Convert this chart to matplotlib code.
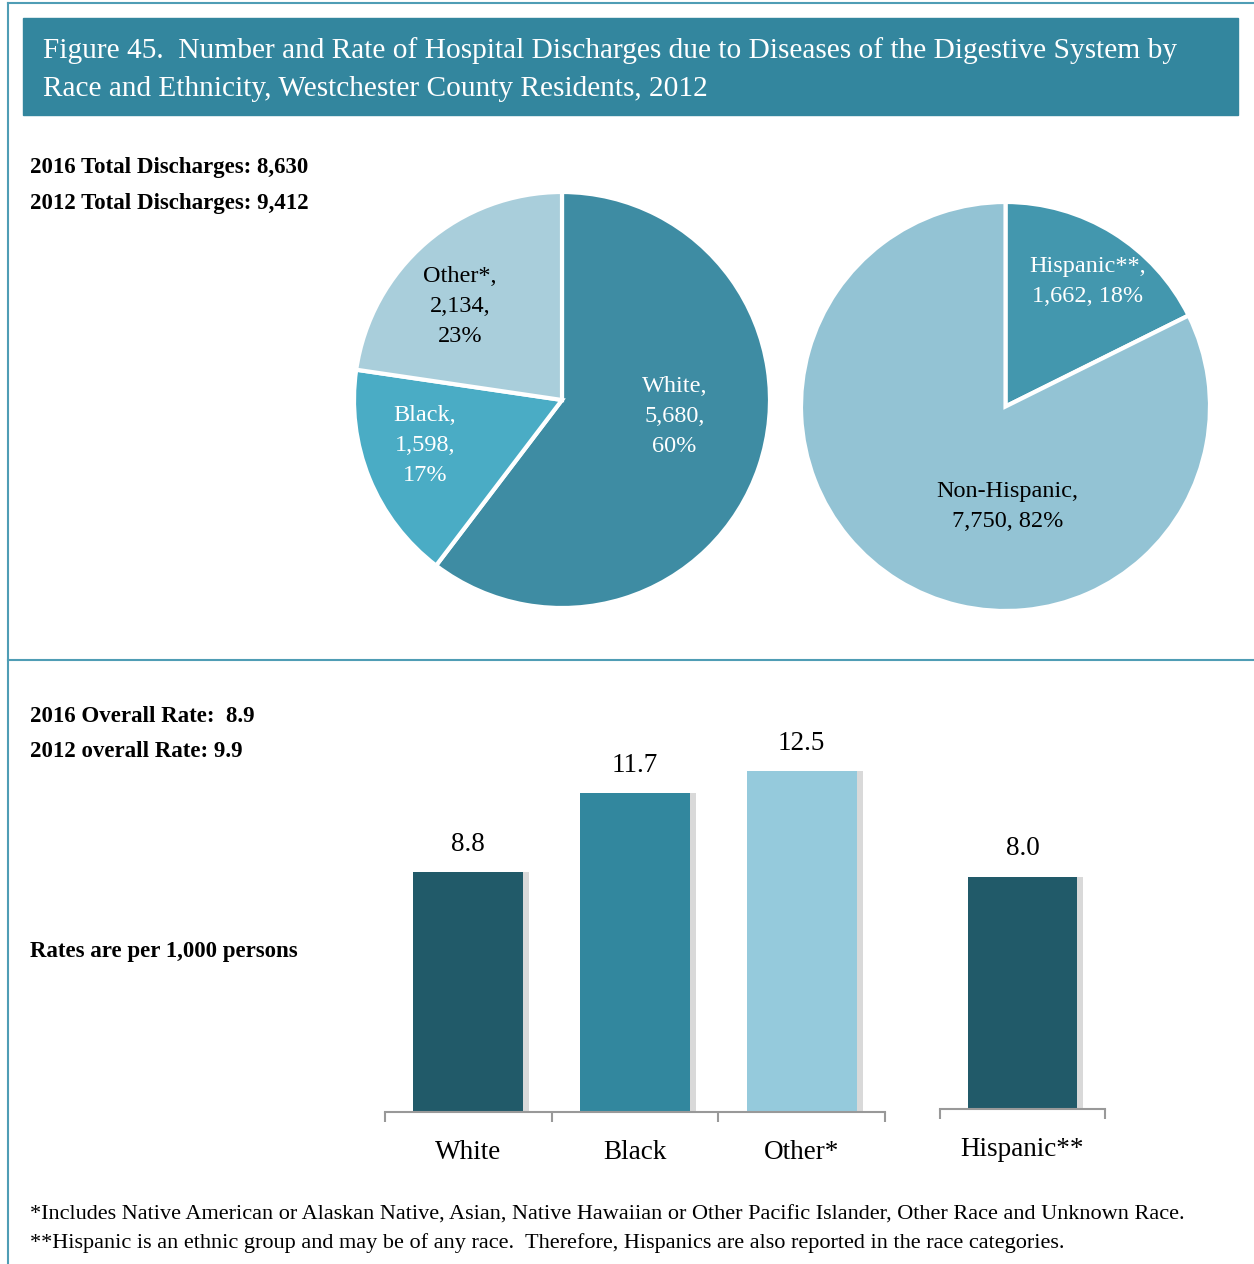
import matplotlib
matplotlib.use('Agg')
import matplotlib.pyplot as plt
from matplotlib.patches import Rectangle
from matplotlib.lines import Line2D

# data
race_names = ['White', 'Black', 'Other*']
race_counts = [5680, 1598, 2134]
race_pcts = [60, 17, 23]
eth_names = ['Hispanic**', 'Non-Hispanic']
eth_counts = [1662, 7750]
eth_pcts = [18, 82]
bar_labels = ['White', 'Black', 'Other*']
bar_rates = [8.8, 11.7, 12.5]
hisp_label = ['Hispanic**']
hisp_rate = [8.0]

W, H = 1254, 1264
fig = plt.figure(figsize=(W / 100, H / 100), dpi=100)
plt.rcParams['font.family'] = 'Liberation Serif'

teal = '#33869E'
border = '#4F9DB5'


def px(x0, y0, x1, y1):
    # pixel box (top-left origin) -> figure fraction rect
    return [x0 / W, 1 - y1 / H, (x1 - x0) / W, (y1 - y0) / H]


def ftext(x, y, s, **kw):
    fig.text(x / W, 1 - y / H, s, **kw)


# frame lines
fig.add_artist(Line2D([8 / W, 8 / W], [0, 1 - 3 / H], color=border, lw=1.5))
fig.add_artist(Line2D([8 / W, 1], [1 - 3 / H, 1 - 3 / H], color=border, lw=1.5))
fig.add_artist(Line2D([8 / W, 1], [1 - 660 / H, 1 - 660 / H], color=border, lw=1.5))

# title band
fig.add_artist(Rectangle((23 / W, 1 - 115 / H), (1238 - 23) / W, 97 / H,
                         transform=fig.transFigure, color=teal))
ftext(43, 70, 'Figure 45.  Number and Rate of Hospital Discharges due to Diseases of the Digestive System by\n'
      'Race and Ethnicity, Westchester County Residents, 2012',
      color='white', fontsize=21.2, va='center', ha='left', linespacing=1.6)

ftext(30, 167, '2016 Total Discharges: 8,630', fontsize=16.5, fontweight='bold', va='center')
ftext(30, 204, '2012 Total Discharges: 9,412', fontsize=16.5, fontweight='bold', va='center')
ftext(30, 716, '2016 Overall Rate:  8.9', fontsize=16.5, fontweight='bold', va='center')
ftext(30, 752, '2012 overall Rate: 9.9', fontsize=16.5, fontweight='bold', va='center')
ftext(30, 951, 'Rates are per 1,000 persons', fontsize=16.5, fontweight='bold', va='center')

ftext(30, 1215, '*Includes Native American or Alaskan Native, Asian, Native Hawaiian or Other Pacific Islander, '
      'Other Race and Unknown Race.', fontsize=16, va='center')
ftext(30, 1243, '**Hispanic is an ethnic group and may be of any race.  Therefore, Hispanics are also reported '
      'in the race categories.', fontsize=16, va='center')

# pie 1: race
ax1 = fig.add_axes(px(354, 192, 770, 608))
ax1.pie(race_counts, colors=['#3E8CA3', '#4AACC5', '#A9CEDB'], startangle=90, counterclock=False,
        wedgeprops=dict(edgecolor='white', linewidth=3))
ax1.set_aspect('equal')
ax1.set_xlim(-1, 1)
ax1.set_ylim(-1, 1)
pos1 = [(0.54, -0.08), (-0.66, -0.22), (-0.49, 0.45)]
col1 = ['white', 'white', 'black']
for n, c, p, (x, y), tc in zip(race_names, race_counts, race_pcts, pos1, col1):
    ax1.text(x, y, f'{n},\n{c:,},\n{p}%', ha='center', va='center', color=tc,
             fontsize=17.5, linespacing=1.55)

# pie 2: ethnicity
ax2 = fig.add_axes(px(801, 202, 1210, 611))
ax2.pie(eth_counts, colors=['#4397AE', '#93C3D4'], startangle=90, counterclock=False,
        wedgeprops=dict(edgecolor='white', linewidth=3))
ax2.set_aspect('equal')
ax2.set_xlim(-1, 1)
ax2.set_ylim(-1, 1)
pos2 = [(0.40, 0.61), (0.01, -0.49)]
col2 = ['white', 'black']
for n, c, p, (x, y), tc in zip(eth_names, eth_counts, eth_pcts, pos2, col2):
    ax2.text(x, y, f'{n},\n{c:,}, {p}%', ha='center', va='center', color=tc,
             fontsize=17.5, linespacing=1.55)


def bar_panel(ax, labels, vals, colors):
    xs = list(range(len(vals)))
    ax.bar([x + 0.035 for x in xs], vals, width=0.66, color='#c0c0c0', alpha=0.6, zorder=1)
    ax.bar(xs, vals, width=0.66, color=colors, zorder=2)
    for x, v in zip(xs, vals):
        ax.text(x, v + 0.55, f'{v:.1f}', ha='center', va='bottom', fontsize=19.5)
    ax.set_xlim(-0.5, len(vals) - 0.5)
    ax.set_ylim(0, 14)
    for s in ['top', 'left', 'right']:
        ax.spines[s].set_visible(False)
    ax.spines['bottom'].set_color('#999999')
    ax.spines['bottom'].set_linewidth(1.5)
    ax.set_yticks([])
    ax.set_xticks(xs)
    ax.set_xticklabels(labels, fontsize=19.5)
    ax.tick_params(axis='x', which='major', length=0, pad=20)
    ax.set_xticks([x - 0.5 for x in range(len(vals) + 1)], minor=True)
    ax.tick_params(axis='x', which='minor', length=7, width=1.5, color='#999999', direction='out')


ax3 = fig.add_axes(px(385, 730, 885, 1112))
bar_panel(ax3, bar_labels, bar_rates, ['#215A69', '#32879E', '#95CADC'])

ax4 = fig.add_axes(px(940, 703, 1105, 1109))
bar_panel(ax4, hisp_label, hisp_rate, ['#215A69'])

fig.savefig('out.png', dpi=100)
